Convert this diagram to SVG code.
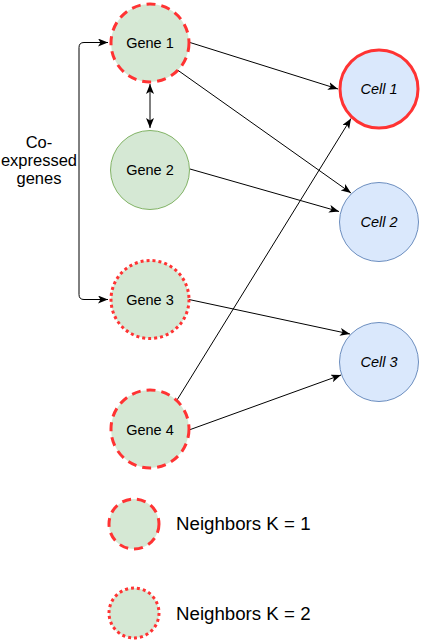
<svg xmlns="http://www.w3.org/2000/svg" width="421" height="641" viewBox="0 0 421 641">
<style>
.gene{fill:#d5e8d4;stroke:#ff3333;stroke-width:3}
.g2{fill:#d5e8d4;stroke:#82b366;stroke-width:1}
.cell{fill:#dae8fc;stroke:#6c8ebf;stroke-width:1}
.dash{stroke-dasharray:9 6}
.dot{stroke-dasharray:3 3}
.lbl{font-family:"Liberation Sans",Arial,sans-serif;font-size:14.5px;fill:#000;text-anchor:middle}
.it{font-style:italic}
.big{font-family:"Liberation Sans",Arial,sans-serif;font-size:18.7px;fill:#000}
.side{font-family:"Liberation Sans",Arial,sans-serif;font-size:16.5px;fill:#000;text-anchor:middle}
.edge{fill:none;stroke:#000;stroke-width:1}
</style>
<defs>
<marker id="ah" markerUnits="userSpaceOnUse" viewBox="0 0 10 8" refX="10" refY="4" markerWidth="10" markerHeight="8" orient="auto-start-reverse">
<path d="M0,0 L10,4 L0,8 L2.5,4 Z" fill="#000"/>
</marker>
</defs>
<g id="connectors">
<path class="edge" d="M108,42.5 L84,42.5 Q79,42.5 79,47.5 L79,294.5 Q79,299.5 84,299.5 L108,299.5" marker-start="url(#ah)" marker-end="url(#ah)"/>
<path class="edge" d="M150,84 L150,128" marker-start="url(#ah)" marker-end="url(#ah)"/>
<path class="edge" d="M190,42.5 L338,89" marker-end="url(#ah)"/>
<path class="edge" d="M177.5,70 L351,193" marker-end="url(#ah)"/>
<path class="edge" d="M190,169 L339,211.5" marker-end="url(#ah)"/>
<path class="edge" d="M189,299.5 L350,334" marker-end="url(#ah)"/>
<path class="edge" d="M177,400 L351,118.5" marker-end="url(#ah)"/>
<path class="edge" d="M189,430 L341,375" marker-end="url(#ah)"/>
</g>
<g id="gene1"><circle class="gene dash" cx="150" cy="43" r="39"/><text class="lbl" x="150" y="48">Gene 1</text></g>
<g id="gene2"><circle class="g2" cx="150" cy="170" r="39.5"/><text class="lbl" x="150" y="175">Gene 2</text></g>
<g id="gene3"><circle class="gene dot" cx="150" cy="299.5" r="39"/><text class="lbl" x="150" y="305">Gene 3</text></g>
<g id="gene4"><circle class="gene dash" cx="150" cy="429" r="39"/><text class="lbl" x="150" y="435">Gene 4</text></g>
<g id="cell1"><circle class="cell" cx="379" cy="89" r="39" style="stroke:#ff3333;stroke-width:3"/><text class="lbl it" x="379" y="94">Cell 1</text></g>
<g id="cell2"><circle class="cell" cx="379" cy="222" r="39.5"/><text class="lbl it" x="379" y="227">Cell 2</text></g>
<g id="cell3"><circle class="cell" cx="379" cy="362" r="39.5"/><text class="lbl it" x="379" y="367">Cell 3</text></g>
<g id="coexpressed"><text class="side" x="39" y="148">Co-</text><text class="side" x="39" y="166">expressed</text><text class="side" x="39" y="184">genes</text></g>
<g id="legend1"><circle class="gene dash" cx="134" cy="524" r="25"/><text class="big" x="176" y="530">Neighbors K = 1</text></g>
<g id="legend2"><circle class="gene dot" cx="134" cy="613" r="25"/><text class="big" x="176" y="620">Neighbors K = 2</text></g>
</svg>
